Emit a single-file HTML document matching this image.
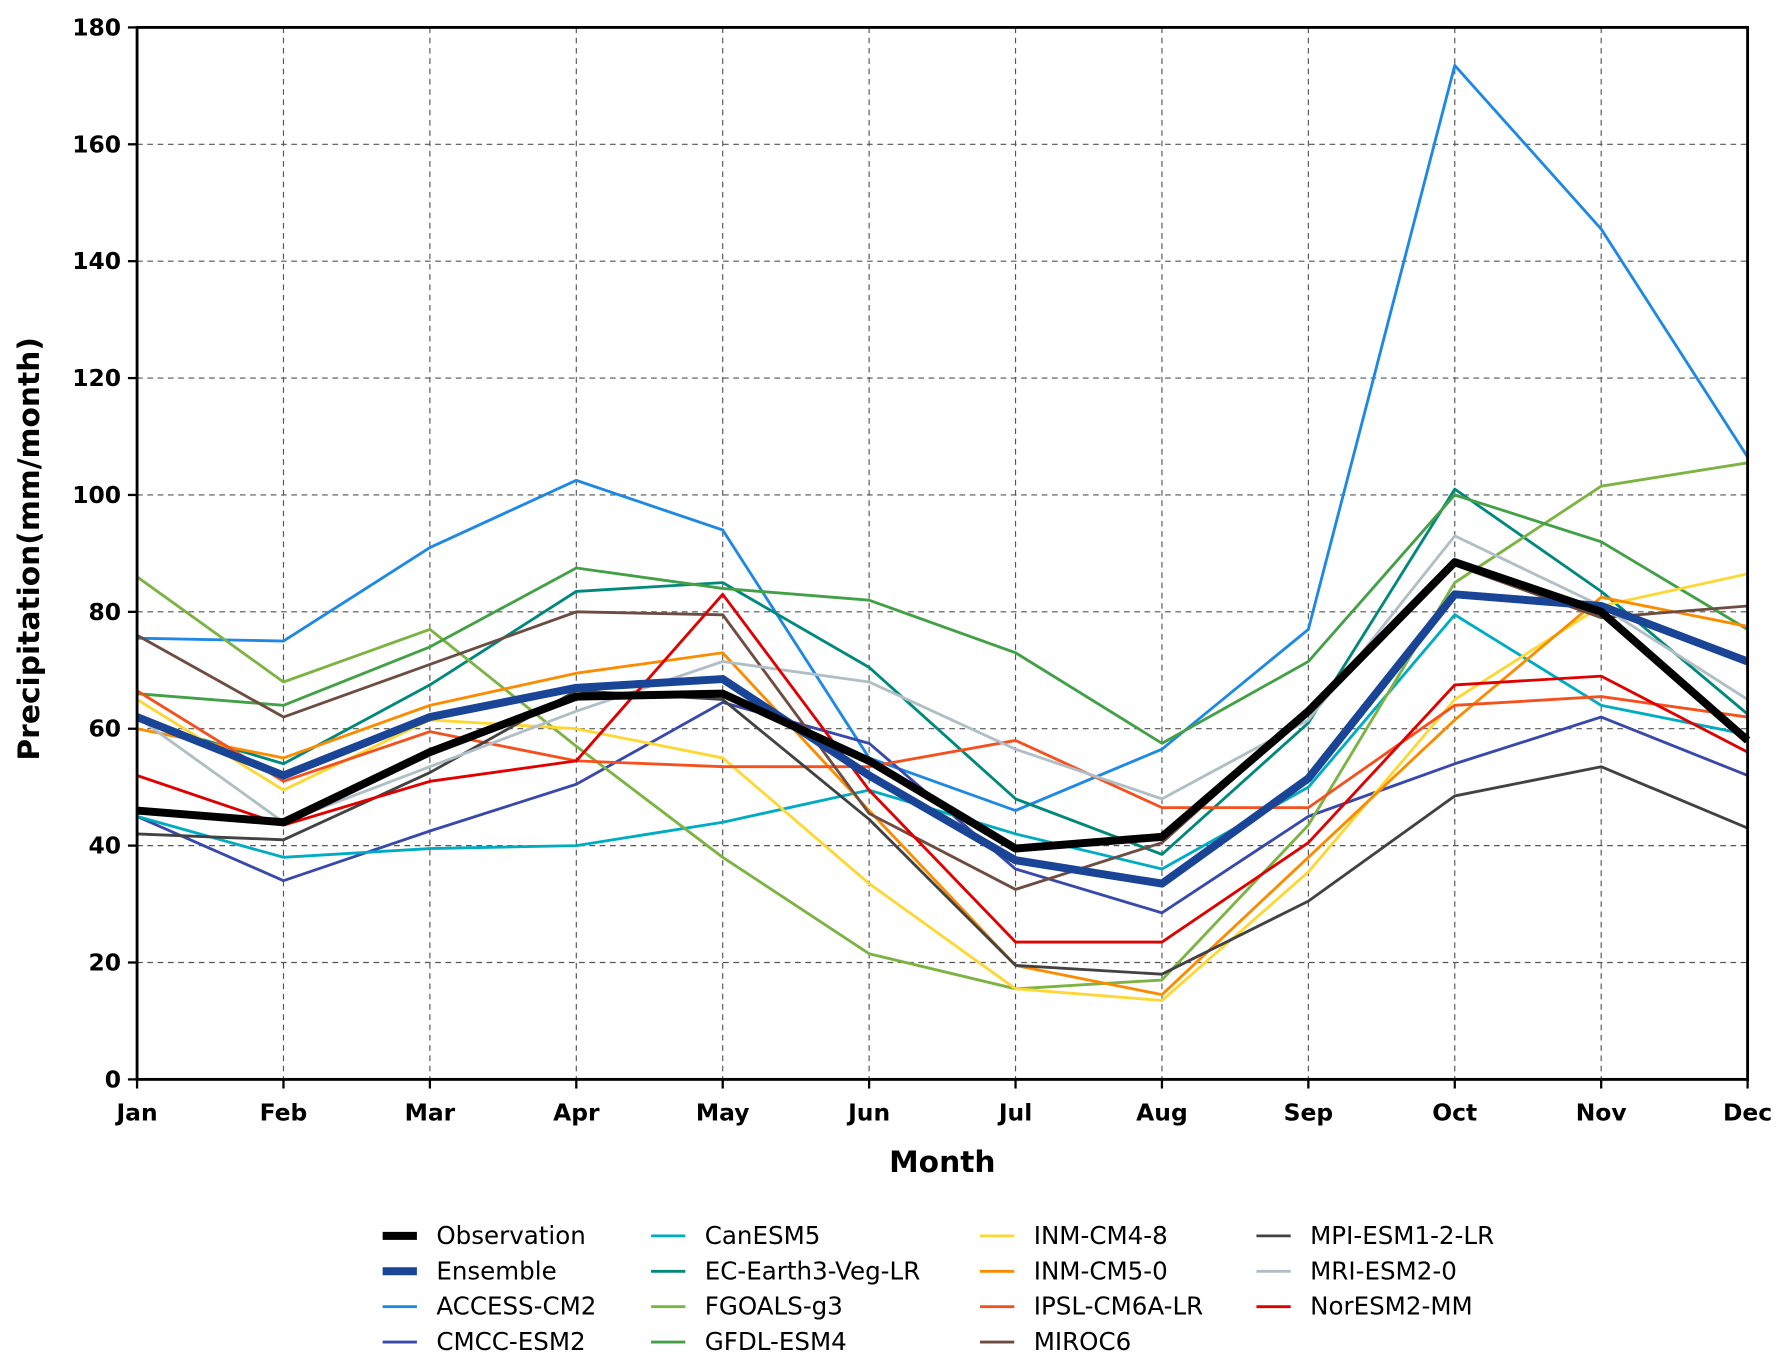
<!DOCTYPE html>
<html><head><meta charset="utf-8"><style>html,body{margin:0;padding:0;background:#fff}svg{display:block}</style></head>
<body>
<svg id="chart" width="1791" height="1367" viewBox="0 0 1568 1196.8" preserveAspectRatio="none" xmlns="http://www.w3.org/2000/svg" font-family="DejaVu Sans, Liberation Sans, sans-serif">
<g id="grid"></g>
<g id="series"></g>
<g id="axes"></g>
<g id="legend"></g>
</svg>
<script>
const months = ["Jan","Feb","Mar","Apr","May","Jun","Jul","Aug","Sep","Oct","Nov","Dec"];
const yTicks = [0,20,40,60,80,100,120,140,160,180];
const seriesNames = ["Observation","Ensemble","ACCESS-CM2","CMCC-ESM2","CanESM5","EC-Earth3-Veg-LR","FGOALS-g3","GFDL-ESM4","INM-CM4-8","INM-CM5-0","IPSL-CM6A-LR","MIROC6","MPI-ESM1-2-LR","MRI-ESM2-0","NorESM2-MM"];
const seriesColors = ["#000000","#1a4496","#1e88e5","#3949ab","#00acc1","#00897b","#7cb342","#43a047","#fdd835","#fb8c00","#f4511e","#6d4c41","#424242","#b0bec5","#e00000"];
const obs = [46,44,56,65.5,66,54.5,39.5,41.5,63,88.5,80,58];
const ens = [62,52,62,67,68.5,52,37.5,33.5,51.5,83,81,71.5];
const accessCM2 = [75.5,75,91,102.5,94,55,46,56.5,77,173.5,145.5,106.5];
const cmccESM2 = [45,34,42.5,50.5,64.5,57.5,36,28.5,45,54,62,52];
const canESM5 = [45,38,39.5,40,44,49.5,42,36,50,79.5,64,59];
const ecEarth3 = [61.5,54,67.5,83.5,85,70.5,48,38.5,61,101,83.5,62.5];
const fgoalsG3 = [86,68,77,57,38,21.5,15.5,17,43.5,85,101.5,105.5];
const gfdlESM4 = [66,64,74,87.5,84,82,73,57.5,71.5,100,92,77];
const inmCM48 = [65,49.5,61.5,60,55,33.5,15.5,13.5,35.5,65,81,86.5];
const inmCM50 = [60,55,64,69.5,73,46,19.5,14.5,38,61.5,82.5,77.5];
const ipsl = [66.5,51,59.5,54.5,53.5,53.5,58,46.5,46.5,64,65.5,62];
const miroc6 = [76,62,71,80,79.5,45.5,32.5,40.5,63,88,79,81];
const mpi = [42,41,52.5,66.5,65,44.5,19.5,18,30.5,48.5,53.5,43];
const mri = [62,44,53.5,63,71.5,68,56.5,48,61.5,93,81,65];
const norESM2 = [52,43.5,51,54.5,83,49.5,23.5,23.5,40.5,67.5,69,56];
const seriesData = [obs,ens,accessCM2,cmccESM2,canESM5,ecEarth3,fgoalsG3,gfdlESM4,inmCM48,inmCM50,ipsl,miroc6,mpi,mri,norESM2];

const NS="http://www.w3.org/2000/svg";
const L=120,R=1530,T=24,B=945;
const x=i=>L+i*(R-L)/(months.length-1);
const y=v=>B-(v-0)/(180-0)*(B-T);
function mk(tag,attrs,parent){const e=document.createElementNS(NS,tag);for(const k in attrs)e.setAttribute(k,attrs[k]);parent.appendChild(e);return e;}
const grid=document.getElementById('grid'),ser=document.getElementById('series'),axes=document.getElementById('axes'),leg=document.getElementById('legend');

months.forEach((m,i)=>{
  if(i>0&&i<months.length-1){const g=mk('line',{x1:x(i),x2:x(i),y1:T,y2:B,stroke:'#555','stroke-width':1,'stroke-dasharray':'5,4'},grid);
  
  }
  const t=mk('line',{x1:x(i),x2:x(i),y1:B,y2:B+8,stroke:'#000','stroke-width':2},axes);
  
  
  const tx=mk('text',{x:x(i),y:B+36,'text-anchor':'middle','font-size':20.5,'font-weight':'bold'},axes);
  tx.textContent=m;
  
  
});
yTicks.forEach(v=>{
  if(v>0&&v<180){const g=mk('line',{x1:L,x2:R,y1:y(v),y2:y(v),stroke:'#555','stroke-width':1,'stroke-dasharray':'5,4'},grid);
  
  }
  const t=mk('line',{x1:L-8,x2:L,y1:y(v),y2:y(v),stroke:'#000','stroke-width':2},axes);
  
  
  const tx=mk('text',{x:L-14,y:y(v)+7,'text-anchor':'end','font-size':20.5,'font-weight':'bold'},axes);
  tx.textContent=v;
  
  
});
const frame=mk('rect',{x:L,y:T,width:R-L,height:B-T,fill:'none',stroke:'#000','stroke-width':2.5},axes);


const xt=mk('text',{x:(L+R)/2,y:1026,'text-anchor':'middle','font-size':26,'font-weight':'bold'},axes);
xt.textContent='Month';


const yt=mk('text',{x:0,y:0,'text-anchor':'middle','font-size':26,'font-weight':'bold',transform:`translate(34,${(T+B)/2-4}) rotate(-90)`},axes);
yt.textContent='Precipitation(mm/month)';



const order=[];for(let i=2;i<seriesNames.length;i++)order.push(i);order.push(1,0);
order.forEach(s=>{
  const pts=seriesData[s].map((v,i)=>x(i)+','+y(v)).join(' ');
  const p=mk('polyline',{points:pts,fill:'none',stroke:seriesColors[s],'stroke-width':s<2?7:2.5,'stroke-linejoin':'round'},ser);
  
  
});

const colX=[335,570,858,1100],rowY=[1082,1113,1144,1175];
seriesNames.forEach((n,s)=>{
  const c=Math.floor(s/4),r=s%4;
  const ln=mk('line',{x1:colX[c],x2:colX[c]+30,y1:rowY[r],y2:rowY[r],stroke:seriesColors[s],'stroke-width':s<2?7:2.5},leg);
  
  
  const t=mk('text',{x:colX[c]+47,y:rowY[r]+7,'font-size':21.5},leg);
  t.textContent=n;
  
  
});
</script>
</body></html>
